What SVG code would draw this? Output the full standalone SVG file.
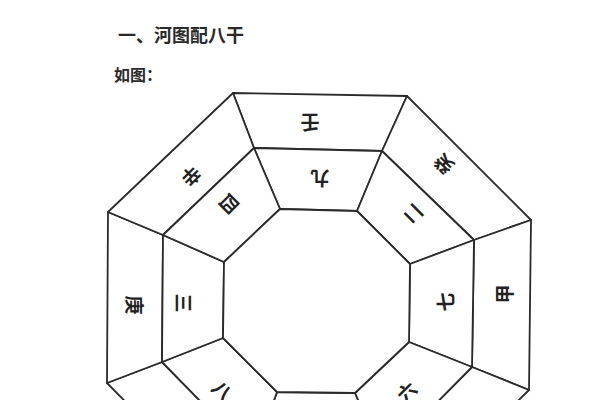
<svg xmlns="http://www.w3.org/2000/svg" width="600" height="400" viewBox="0 0 600 400">
<style>
.cell{fill:#fff;stroke:#2b2b2b;stroke-width:1.8;stroke-linejoin:round}
.lbl{font-family:"Noto Sans CJK SC","Noto Sans CJK JP",sans-serif;font-size:19px;font-weight:700;fill:#222;text-anchor:middle;dominant-baseline:central}
.hd{font-family:"Noto Sans CJK SC","Noto Sans CJK JP",sans-serif;font-weight:700;fill:#2a2a2a}
</style>
<rect width="600" height="400" fill="#fff"/>
<text class="hd" x="118" y="42" font-size="18">一、河图配八干</text>
<text class="hd" x="114" y="81" font-size="16">如图：</text>
<g id="outer-0"><polygon class="cell" points="233,93 407,96 382,151 254,148"/><text class="lbl" x="310" y="123" transform="rotate(180 310 123)">壬</text></g>
<g id="outer-1"><polygon class="cell" points="407,96 531,220 474,240 382,151"/><text class="lbl" x="443" y="165" transform="rotate(-135 443 165)">癸</text></g>
<g id="outer-2"><polygon class="cell" points="531,220 529,390 472,367 474,240"/><text class="lbl" x="503" y="294" transform="rotate(-90 503 294)">甲</text></g>
<g id="outer-3"><polygon class="cell" points="529,390 405,512 382,458 472,367"/></g>
<g id="outer-4"><polygon class="cell" points="405,512 232,510 254,456 382,458"/></g>
<g id="outer-5"><polygon class="cell" points="232,510 107,383 162,362 254,456"/></g>
<g id="outer-6"><polygon class="cell" points="107,383 108,212 163,235 162,362"/><text class="lbl" x="135" y="305" transform="rotate(90 135 305)">庚</text></g>
<g id="outer-7"><polygon class="cell" points="108,212 233,93 254,148 163,235"/><text class="lbl" x="192" y="177" transform="rotate(135 192 177)">辛</text></g>
<g id="middle-0"><polygon class="cell" points="254,148 382,151 357,211 280,209"/><text class="lbl" x="320" y="179" transform="rotate(180 320 179)">九</text></g>
<g id="middle-1"><polygon class="cell" points="382,151 474,240 410,264 357,211"/><text class="lbl" x="412" y="215" transform="rotate(-135 412 215)">二</text></g>
<g id="middle-2"><polygon class="cell" points="474,240 472,367 409,342 410,264"/><text class="lbl" x="444" y="302" transform="rotate(-90 444 302)">七</text></g>
<g id="middle-3"><polygon class="cell" points="472,367 382,458 355,393 409,342"/><text class="lbl" x="406" y="391" transform="rotate(-45 406 391)">六</text></g>
<g id="middle-4"><polygon class="cell" points="382,458 254,456 277,392 355,393"/></g>
<g id="middle-5"><polygon class="cell" points="254,456 162,362 223,338 277,392"/><text class="lbl" x="223" y="390" transform="rotate(45 223 390)">八</text></g>
<g id="middle-6"><polygon class="cell" points="162,362 163,235 224,262 223,338"/><text class="lbl" x="184" y="303" transform="rotate(90 184 303)">三</text></g>
<g id="middle-7"><polygon class="cell" points="163,235 254,148 280,209 224,262"/><text class="lbl" x="230" y="205" transform="rotate(135 230 205)">四</text></g>
<g id="center"><polygon class="cell" points="280,209 357,211 410,264 409,342 355,393 277,392 223,338 224,262"/></g>
<g id="connectors"></g>
</svg>
